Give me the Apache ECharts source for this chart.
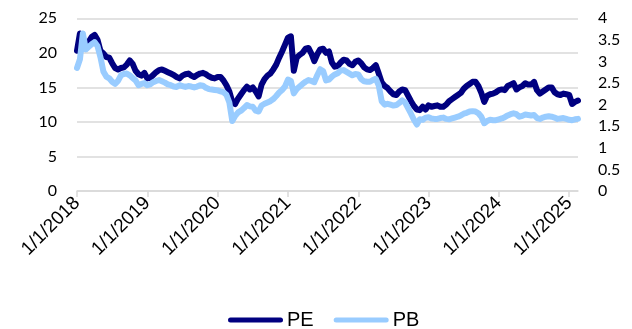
<!DOCTYPE html>
<html>
<head>
<meta charset="utf-8">
<title>PE / PB</title>
<script src="https://cdn.jsdelivr.net/npm/echarts@6/dist/echarts.min.js"></script>
<style>
  html, body { margin: 0; padding: 0; background: #ffffff; }
  #chart { width: 632px; height: 329px; }
</style>
</head>
<body>
<div id="chart"></div>
<script>
// Semi-monthly observation dates (1st and 16th), Jan 2018 - mid Feb 2025
const dates = [];
for (let y = 2018; y <= 2025; y++) {
  for (let m = 1; m <= 12; m++) {
    if (y === 2025 && m > 2) break;
    for (const d of [1, 16]) {
      dates.push(y + '-' + String(m).padStart(2, '0') + '-' + String(d).padStart(2, '0'));
    }
  }
}

// Price / earnings (left axis)
const pe = [
  20.3, 22.8, 21.5, 21.2, 21.6, 22.3, 22.6, 21.9, 20.3, 19.9, 19.4, 19.3,
  18.5, 17.8, 17.6, 17.8, 17.9, 18.3, 18.9, 18.4, 17.4, 16.9, 16.7, 17.1,
  16.3, 16.4, 16.8, 17.2, 17.5, 17.6, 17.4, 17.2, 17.0, 16.8, 16.5, 16.3,
  16.7, 16.9, 17.0, 16.7, 16.5, 16.8, 17.0, 17.1, 16.9, 16.6, 16.4, 16.3,
  16.5, 16.5, 16.0, 15.3, 14.4, 12.9, 12.6, 13.4, 14.0, 14.6, 15.1, 14.7,
  15.0, 14.4, 13.7, 15.4, 16.2, 16.7, 17.0, 17.6, 18.3, 19.3, 20.2, 21.2,
  22.2, 22.4, 17.4, 19.3, 19.7, 20.0, 20.6, 20.7, 19.9, 18.8, 19.8, 20.5,
  20.6, 20.0, 20.2, 18.6, 18.0, 18.1, 18.6, 19.0, 18.9, 18.4, 18.2, 18.7,
  18.9, 18.5, 17.9, 17.6, 17.5, 17.8, 18.2, 17.0, 15.7, 15.2, 14.9, 14.4,
  14.0, 13.9, 14.4, 14.7, 14.6, 13.8, 13.0, 12.3, 11.8, 11.7, 12.2, 11.8,
  12.4, 12.2, 12.3, 12.4, 12.2, 12.2, 12.5, 13.0, 13.3, 13.6, 13.9, 14.2,
  14.8, 15.2, 15.5, 15.8, 15.8, 15.2, 14.2, 12.9, 13.8, 14.0, 14.1, 14.3,
  14.6, 14.7, 14.6, 15.2, 15.4, 15.6, 14.7, 15.0, 15.2, 15.6, 15.4, 15.4,
  15.8, 14.6, 14.1, 14.4, 14.7, 15.0, 15.0, 14.3, 14.0, 13.9, 14.1, 14.0,
  13.9, 12.6, 12.9, 13.1
];

// Price / book (right axis)
const pb = [
  2.85, 3.05, 3.65, 3.28, 3.34, 3.40, 3.45, 3.36, 3.10, 2.77, 2.65, 2.61,
  2.53, 2.48, 2.55, 2.68, 2.71, 2.72, 2.68, 2.62, 2.56, 2.45, 2.48, 2.50,
  2.45, 2.47, 2.52, 2.55, 2.57, 2.54, 2.51, 2.47, 2.45, 2.42, 2.41, 2.45,
  2.43, 2.41, 2.43, 2.42, 2.40, 2.42, 2.45, 2.44, 2.39, 2.36, 2.35, 2.34,
  2.33, 2.31, 2.29, 2.23, 2.05, 1.62, 1.74, 1.82, 1.86, 1.92, 1.99, 1.96,
  1.95, 1.86, 1.84, 1.98, 2.02, 2.05, 2.08, 2.13, 2.20, 2.28, 2.34, 2.42,
  2.58, 2.55, 2.26, 2.36, 2.42, 2.48, 2.53, 2.57, 2.55, 2.52, 2.68, 2.82,
  2.78, 2.56, 2.58, 2.65, 2.70, 2.73, 2.79, 2.80, 2.76, 2.72, 2.68, 2.71,
  2.70, 2.59, 2.54, 2.53, 2.53, 2.57, 2.60, 2.44, 2.08, 2.00, 2.02, 2.00,
  1.98, 1.99, 2.04, 2.10, 2.05, 1.92, 1.79, 1.65, 1.54, 1.66, 1.65, 1.70,
  1.71, 1.68, 1.67, 1.67, 1.69, 1.70, 1.67, 1.66, 1.68, 1.70, 1.72, 1.75,
  1.79, 1.81, 1.84, 1.85, 1.84, 1.80, 1.72, 1.57, 1.62, 1.65, 1.64, 1.64,
  1.66, 1.68, 1.71, 1.75, 1.78, 1.80, 1.78, 1.72, 1.74, 1.77, 1.76, 1.75,
  1.76, 1.69, 1.67, 1.70, 1.72, 1.73, 1.72, 1.70, 1.67, 1.68, 1.69, 1.67,
  1.65, 1.64, 1.66, 1.67
];

const seriesNames = ['PE', 'PB'];
const peColor = '#000080';
const pbColor = '#99ccff';
const gridColor = '#d9d9d9';

// Year boundaries get a tick and a label
const isYearStart = (idx, value) => value.slice(5) === '01-01';
const toUSDate = (value) => {
  const parts = value.split('-');
  return (+parts[1]) + '/' + (+parts[2]) + '/' + parts[0];
};

const legendIcon = 'path://M2.5,0 L52.5,0 A2.5,2.5 0 0 1 52.5,5 L2.5,5 A2.5,2.5 0 0 1 2.5,0 Z';

const chart = echarts.init(document.getElementById('chart'), null, { renderer: 'canvas' });
chart.setOption({
  animation: false,
  backgroundColor: '#ffffff',
  grid: { left: 77, right: 54, top: 18.3, bottom: 138, containLabel: false },
  legend: {
    data: seriesNames,
    top: 305,
    left: 223,
    itemWidth: 55,
    itemHeight: 5,
    itemGap: 20,
    icon: legendIcon,
    textStyle: { fontFamily: 'Liberation Sans, Arial, sans-serif', fontSize: 20, color: '#000000', padding: [0, 0, 0, -1] }
  },
  xAxis: {
    type: 'category',
    data: dates,
    boundaryGap: false,
    axisLine: { show: true, lineStyle: { color: gridColor, width: 1.5 } },
    axisTick: { show: true, interval: isYearStart, length: 6, lineStyle: { color: gridColor, width: 1.5 } },
    axisLabel: {
      interval: isYearStart,
      formatter: toUSDate,
      rotate: 45,
      margin: 9,
      color: '#000000',
      fontFamily: 'Liberation Sans, Arial, sans-serif',
      fontSize: 19
    },
    splitLine: { show: false }
  },
  yAxis: [
    {
      type: 'value',
      min: 0,
      max: 25,
      interval: 5,
      axisLine: { show: false },
      axisTick: { show: false },
      axisLabel: { margin: 20, color: '#000000', fontFamily: 'Lato, sans-serif', fontSize: 16 },
      splitLine: { show: true, lineStyle: { color: gridColor, width: 1.5 } }
    },
    {
      type: 'value',
      min: 0,
      max: 4,
      interval: 0.5,
      position: 'right',
      axisLine: { show: false },
      axisTick: { show: false },
      axisLabel: { margin: 20, color: '#000000', fontFamily: 'Lato, sans-serif', fontSize: 16 },
      splitLine: { show: false }
    }
  ],
  series: [
    {
      name: seriesNames[0],
      type: 'line',
      data: pe,
      yAxisIndex: 0,
      showSymbol: false,
      symbol: 'none',
      color: peColor,
      lineStyle: { color: peColor, width: 6, cap: 'round', join: 'round' }
    },
    {
      name: seriesNames[1],
      type: 'line',
      data: pb,
      yAxisIndex: 1,
      showSymbol: false,
      symbol: 'none',
      color: pbColor,
      lineStyle: { color: pbColor, width: 6, cap: 'round', join: 'round' }
    }
  ]
});
</script>
</body>
</html>
